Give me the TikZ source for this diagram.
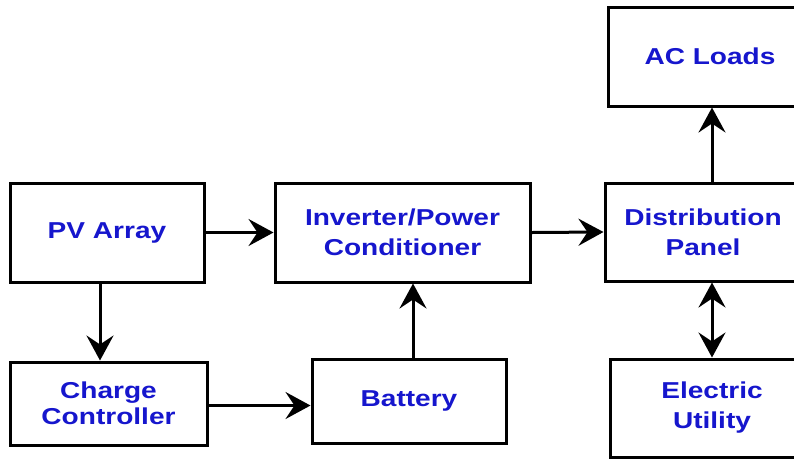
\documentclass[tikz,border=0pt]{standalone}
\usepackage{fontspec}
\setmainfont[FakeStretch=1.22]{Liberation Sans}
\usetikzlibrary{arrows.meta}
\definecolor{txtblue}{RGB}{22,22,205}
\tikzset{
  blk/.style={draw=black, line width=3pt, fill=white, inner sep=0pt, align=center,
    text=txtblue, font=\bfseries\fontsize{23}{30}\selectfont},
  tip/.tip={Stealth[length=25pt,width=27pt,inset=9pt]},
  conn/.style={line width=3pt, -tip},
  bconn/.style={line width=3pt, tip-tip}
}
\begin{document}
\begin{tikzpicture}[x=1pt,y=-1pt]
\clip (0,0) rectangle (794,459);
\fill[white] (0,0) rectangle (794,459);
\node[blk, minimum width=194pt, minimum height=99pt] (pv) at (107,232.5) {PV Array};
\node[blk, minimum width=255pt, minimum height=99pt] (inv) at (402.5,232.5) {Inverter/Power\\Conditioner};
\node[blk, minimum width=196pt, minimum height=98pt] (dist) at (703,232) {Distribution\\Panel};
\node[blk, minimum width=204pt, minimum height=99pt] (ac) at (710,56.5) {AC Loads};
\node[blk, minimum width=197pt, minimum height=83pt, font=\bfseries\fontsize{23}{26}\selectfont] (cc) at (108.5,403.5) {Charge\\Controller};
\node[blk, minimum width=194pt, minimum height=84pt] (bat) at (409,401) {Battery};
\node[blk, minimum width=204pt, minimum height=98pt] (eu) at (712,408) {Electric\\Utility};

\draw[conn] (pv.east) -- (inv.west);
\draw[conn] (inv.east) -- (dist.west);
\draw[conn] ([xshift=-7pt]pv.south) -- ([xshift=-8.5pt]cc.north);
\draw[conn] ([yshift=-2pt]cc.east) -- ([yshift=-2pt]cc.east -| bat.west);
\draw[conn] ([xshift=4pt]bat.north) -- ([xshift=4pt]bat.north |- inv.south);
\draw[conn] ([xshift=2pt]ac.south |- dist.north) -- ([xshift=2pt]ac.south);
\draw[bconn] (eu.north |- dist.south) -- (eu.north);
\end{tikzpicture}
\end{document}
